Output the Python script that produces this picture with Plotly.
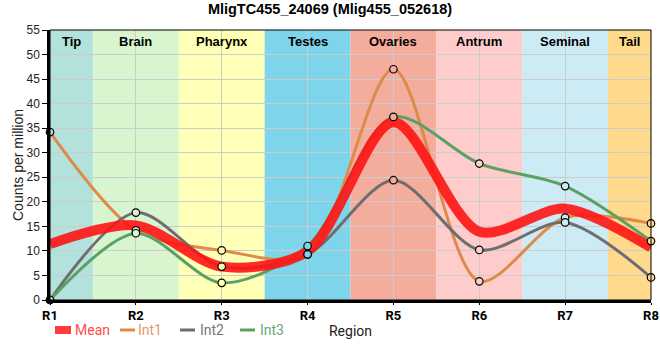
import plotly.graph_objects as go

# ---- data ----
regions = ["R1", "R2", "R3", "R4", "R5", "R6", "R7", "R8"]
mean_vals = [11.4, 15.2, 6.8, 9.9, 36.2, 13.9, 18.6, 10.7]
int1_vals = [34.2, 14.2, 10.1, 9.3, 47.0, 3.8, 16.8, 15.6]
int2_vals = [0.0, 17.8, 6.8, 9.3, 24.4, 10.2, 15.8, 4.6]
int3_vals = [0.0, 13.6, 3.5, 11.0, 37.3, 27.8, 23.2, 12.0]
band_names = ["Tip", "Brain", "Pharynx", "Testes", "Ovaries", "Antrum", "Seminal", "Tail"]
band_colors = ["#B3E2DD", "#D8F5D0", "#FFFFB5", "#7ED4EA", "#F4AC9D", "#FFCCCC", "#CDEBF5", "#FFD98C"]
y_ticks = list(range(0, 56, 5))

C_MEAN = "rgba(255,20,20,0.9)"
C_INT1 = "#DE8A48"
C_INT2 = "#6E6E6E"
C_INT3 = "#5BA064"

FONT = "Liberation Sans, Arial, sans-serif"
LFONT = "Roboto, Liberation Sans, sans-serif"

fig = go.Figure()

for name, vals, col in [("Int1", int1_vals, C_INT1), ("Int2", int2_vals, C_INT2), ("Int3", int3_vals, C_INT3)]:
    fig.add_trace(go.Scatter(x=regions, y=vals, mode="lines", name=name,
                             line=dict(color=col, width=3, shape="spline", smoothing=0.85),
                             showlegend=False, hoverinfo="skip"))

fig.add_trace(go.Scatter(x=regions, y=mean_vals, mode="lines", name="Mean",
                         line=dict(color=C_MEAN, width=10, shape="spline", smoothing=0.85),
                         showlegend=False, hoverinfo="skip"))

for vals in [int1_vals, int2_vals, int3_vals]:
    fig.add_trace(go.Scatter(x=regions, y=vals, mode="markers", showlegend=False,
                             marker=dict(symbol="circle", size=7.5,
                                         color=band_colors,
                                         line=dict(color="black", width=1.2)),
                             cliponaxis=False, hoverinfo="skip"))

# background bands
shapes = []
n = len(regions)
for i, (bn, bc) in enumerate(zip(band_names, band_colors)):
    x0 = max(i - 0.5, 0)
    x1 = min(i + 0.5, n - 1)
    shapes.append(dict(type="rect", xref="x", yref="paper", x0=x0, x1=x1, y0=0, y1=1,
                       fillcolor=bc, line=dict(width=0), layer="below"))

# frame (top/right thin)
shapes.append(dict(type="rect", xref="paper", yref="paper", x0=0, x1=1, y0=0, y1=1,
                   line=dict(color="black", width=1), layer="above"))

annotations = []
for i, bn in enumerate(band_names):
    x0 = max(i - 0.5, 0)
    x1 = min(i + 0.5, n - 1)
    annotations.append(dict(x=(x0 + x1) / 2, y=1, xref="x", yref="paper", yanchor="top",
                            yshift=-2, text="<b>%s</b>" % bn, showarrow=False,
                            font=dict(family=FONT, size=13, color="black")))

# manual legend
PW, PH, L, T = 601.0, 270.0, 50.0, 30.0
def px(xp):
    return (xp - L) / PW
def py(yp):
    return (T + PH - yp) / PH

legend_items = [("Mean", "#FF3B3B", 8, 55, 71, 73, "#FF4D4D"),
                ("Int1", C_INT1, 3, 120, 135, 136, "#E39A63"),
                ("Int2", C_INT2, 3, 180, 195, 198, "#767676"),
                ("Int3", C_INT3, 3, 240, 255, 258, "#66A872")]
for name, col, w, sx0, sx1, tx, tcol in legend_items:
    shapes.append(dict(type="line", xref="paper", yref="paper", x0=px(sx0), x1=px(sx1),
                       y0=py(330), y1=py(330), line=dict(color=col, width=w)))
    annotations.append(dict(x=px(tx), y=py(330), xref="paper", yref="paper",
                            xanchor="left", yanchor="middle", text=name, showarrow=False,
                            font=dict(family=LFONT, size=14, color=tcol)))

# y-axis title as rotated annotation
annotations.append(dict(x=px(18), y=0.5, xref="paper", yref="paper", xanchor="center",
                        yanchor="middle", text="Counts per million", textangle=-90,
                        showarrow=False, font=dict(family=FONT, size=14, color="#222")))

fig.update_layout(
    width=660, height=360,
    margin=dict(l=50, r=9, t=30, b=60, autoexpand=False),
    paper_bgcolor="white", plot_bgcolor="white",
    title=dict(text="<b>MligTC455_24069 (Mlig455_052618)</b>", x=0.5, xref="container",
               y=0.99, yref="container", yanchor="top", automargin=False,
               font=dict(family=FONT, size=14.5, color="black")),
    xaxis=dict(type="category", range=[0, n - 1], showgrid=True, gridcolor="#CCCCCC", gridwidth=1,
               showline=True, linecolor="black", linewidth=2.5, automargin=False,
               ticks="outside", ticklen=2, tickcolor="black",
               tickfont=dict(family=LFONT, size=13, color="black"),
               tickvals=regions, ticktext=["<b>%s</b>" % r for r in regions],
               title=dict(text="Region", standoff=4, font=dict(family=LFONT, size=14, color="#222")),
               zeroline=False, layer="above traces"),
    yaxis=dict(range=[0, 55], tickvals=y_ticks, showgrid=True, gridcolor="#CCCCCC", gridwidth=1,
               showline=True, linecolor="black", linewidth=2.5, automargin=False,
               ticks="outside", ticklen=5, tickcolor="black",
               tickfont=dict(family=FONT, size=12, color="#222"),
               zeroline=False),
    shapes=shapes, annotations=annotations, showlegend=False,
)

fig.write_html("out.html", config={"displayModeBar": False},
               post_script="document.body.style.margin='0';document.body.style.padding='0';")
